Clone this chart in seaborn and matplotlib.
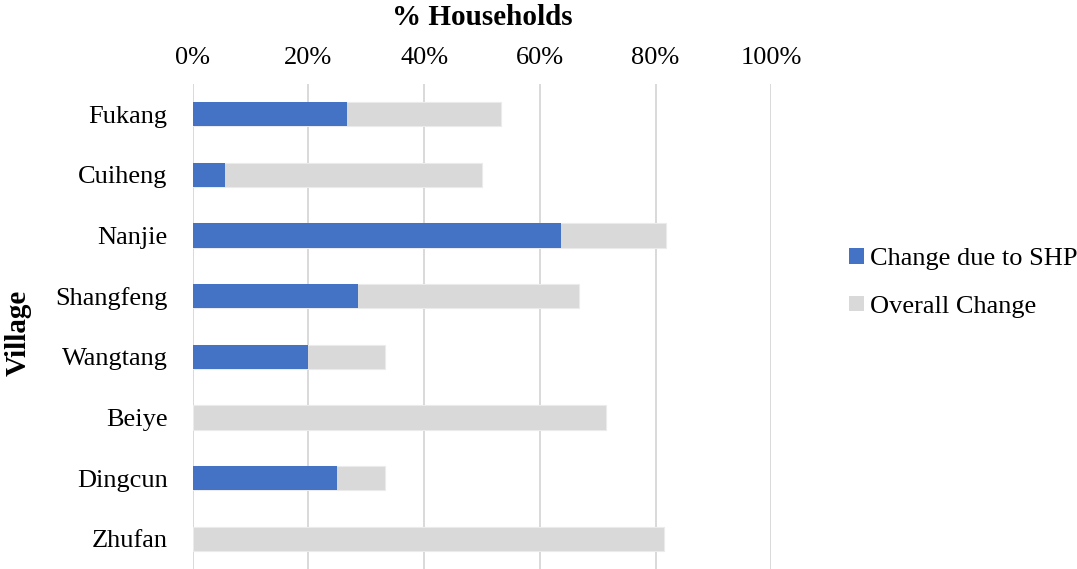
import matplotlib
matplotlib.use("Agg")
import matplotlib.pyplot as plt
import seaborn as sns
import pandas as pd
from matplotlib.patches import Patch
from matplotlib.ticker import FixedLocator, FuncFormatter

# Share of households per village (%)
villages = ["Fukang", "Cuiheng", "Nanjie", "Shangfeng", "Wangtang", "Beiye", "Dingcun", "Zhufan"]
overall_change = [53.3, 50.0, 81.9, 66.7, 33.3, 71.4, 33.3, 81.4]
shp_change = [26.7, 5.6, 63.6, 28.6, 20.0, 0.0, 25.0, 0.0]
x_ticks = [0, 20, 40, 60, 80, 100]

BLUE = "#4472C4"
GREY = "#D9D9D9"

sns.set_theme(style="white")
plt.rcParams["font.family"] = ["Liberation Serif", "DejaVu Serif"]
plt.rcParams.update({"text.color": "black", "axes.labelcolor": "black",
                     "xtick.color": "black", "ytick.color": "black"})

df = pd.DataFrame({
    "Village": villages,
    "Overall Change": overall_change,
    "Change due to SHP": shp_change,
})

W, H = 1077, 569
fig = plt.figure(figsize=(W / 100, H / 100), dpi=100)
ax = fig.add_axes([192.7 / W, 0.0, (771.2 - 192.7) / W, 485 / H])

# Overall change drawn first, SHP-attributed share overlaid on top
sns.barplot(data=df, y="Village", x="Overall Change", color=GREY, saturation=1,
            width=0.4, errorbar=None, edgecolor="#EBEBEB", linewidth=0.8, ax=ax)
sns.barplot(data=df, y="Village", x="Change due to SHP", color=BLUE, saturation=1,
            width=0.4, errorbar=None, linewidth=0, ax=ax)

ax.set_xlim(0, 100)
ax.xaxis.set_major_locator(FixedLocator(x_ticks))
ax.xaxis.set_major_formatter(FuncFormatter(lambda v, _: f"{v:.0f}%"))
ax.xaxis.tick_top()
ax.xaxis.set_label_position("top")
ax.tick_params(axis="x", length=0, pad=10.5, labelsize=19, labelcolor="black")
ax.tick_params(axis="y", length=0, pad=18, labelsize=19, labelcolor="black")

ax.grid(axis="x", color=GREY, linewidth=1.4)
ax.grid(axis="y", visible=False)
ax.set_axisbelow(True)
for s in ax.spines.values():
    s.set_visible(False)

ax.set_xlabel("% Households", fontsize=21, fontweight="bold", labelpad=16, color="black")
ax.set_ylabel("Village", fontsize=21, fontweight="bold", color="black")
ax.yaxis.set_label_coords(-0.278, 0.487)

handles = [Patch(facecolor=BLUE, edgecolor="none", label="Change due to SHP"),
           Patch(facecolor=GREY, edgecolor="none", label="Overall Change")]
fig.legend(handles=handles, loc="center left", bbox_to_anchor=(849 / W, 1 - 283 / H),
           frameon=False, fontsize=19, handlelength=0.55, handleheight=0.55,
           handletextpad=0.25, labelspacing=0.95, borderpad=0, borderaxespad=0,
           labelcolor="black")

fig.savefig("out.png", dpi=100)
